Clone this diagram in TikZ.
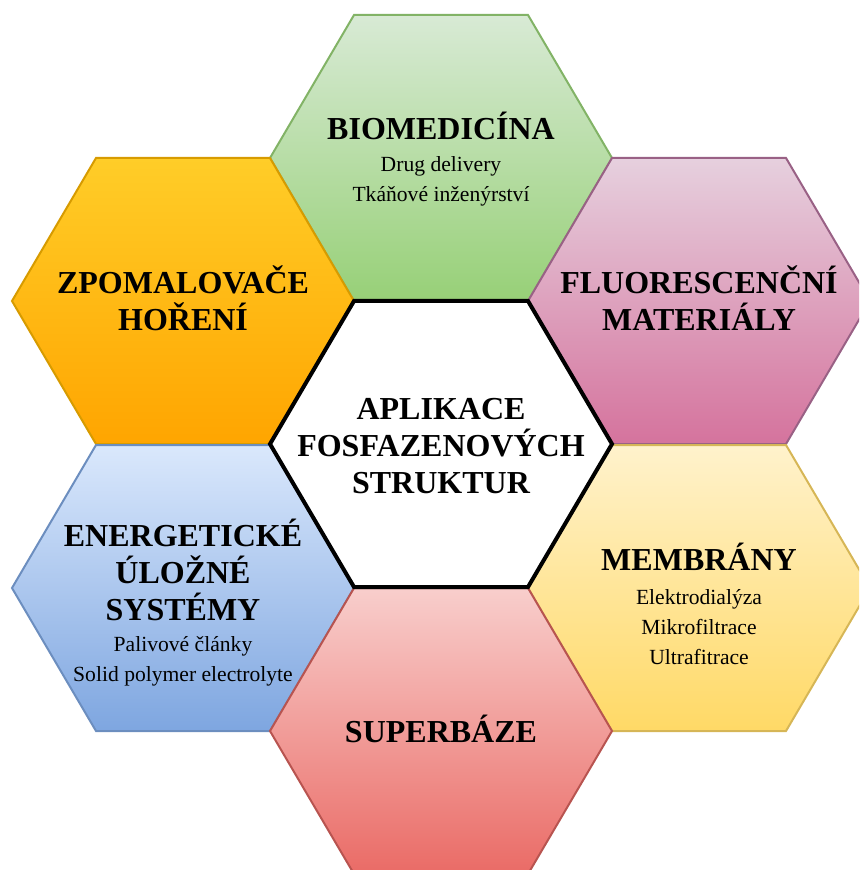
\documentclass[tikz,border=0pt]{standalone}
\usepackage{fontspec}
\setmainfont{Liberation Serif}
\usetikzlibrary{positioning}

\definecolor{biotop}{HTML}{D8EAD5}
\definecolor{biobot}{HTML}{97D077}
\definecolor{bioline}{HTML}{82B366}
\definecolor{zpotop}{HTML}{FFCD28}
\definecolor{zpobot}{HTML}{FFA500}
\definecolor{zpoline}{HTML}{D79B00}
\definecolor{flutop}{HTML}{E6D0DE}
\definecolor{flubot}{HTML}{D5739D}
\definecolor{fluline}{HTML}{996185}
\definecolor{enetop}{HTML}{DAE8FC}
\definecolor{enebot}{HTML}{7EA6E0}
\definecolor{eneline}{HTML}{6C8EBF}
\definecolor{memtop}{HTML}{FFF2CC}
\definecolor{membot}{HTML}{FFD966}
\definecolor{memline}{HTML}{D6B656}
\definecolor{suptop}{HTML}{F8CECC}
\definecolor{supbot}{HTML}{EA6B66}
\definecolor{supline}{HTML}{B85450}

\begin{document}
\begin{tikzpicture}[
    x=0.5pt, y=-0.5pt,
    hexa/.style={line width=1pt, line join=miter},
    biohex/.style={hexa, draw=bioline, top color=biotop, bottom color=biobot},
    zpohex/.style={hexa, draw=zpoline, top color=zpotop, bottom color=zpobot},
    fluhex/.style={hexa, draw=fluline, top color=flutop, bottom color=flubot},
    enehex/.style={hexa, draw=eneline, top color=enetop, bottom color=enebot},
    memhex/.style={hexa, draw=memline, top color=memtop, bottom color=membot},
    suphex/.style={hexa, draw=supline, top color=suptop, bottom color=supbot},
    mainhex/.style={line width=2pt, line join=miter, draw=black, fill=white},
    title/.style={
		align=center,
		inner sep=0pt,
		anchor=base,
		font=\fontsize{16}{18.5}\selectfont\bfseries
	},
    items/.style={
		align=center,
		inner sep=0pt,
		font=\fontsize{10.8}{15}\selectfont
	}
  ]
  \useasboundingbox (0,0) rectangle (859,870);
  \clip (0,0) rectangle (859,870);

  % the honeycomb, outer cells first, the centre cell on top
  \foreach \cx/\cy/\hx in {441/158/biohex, 183/301/zpohex, 699/301/fluhex,
                           183/588/enehex, 699/588/memhex, 441/731/suphex,
                           441/444/mainhex}
    \path[\hx] (\cx-171,\cy) -- (\cx-87,\cy-143) -- (\cx+87,\cy-143)
      -- (\cx+171,\cy) -- (\cx+87,\cy+143) -- (\cx-87,\cy+143) -- cycle;

  % texts of the cells (base = last line of a title)
  \node [title] (main) at (441,493) {APLIKACE\\FOSFAZENOVÝCH\\STRUKTUR};

  \node [title] (bio) at (441,140) {BIOMEDICÍNA};
  \node [items, below=7.5pt of bio] (biolist) {Drug delivery\\Tkáňové inženýrství};

  \node [title] (zpo) at (183,331) {ZPOMALOVAČE\\HOŘENÍ};

  \node [title] (flu) at (699,331) {FLUORESCENČNÍ\\MATERIÁLY};

  \node [title] (ene) at (183,620) {ENERGETICKÉ\\ÚLOŽNÉ\\SYSTÉMY};
  \node [items, below=7.5pt of ene] (enelist) {Palivové články\\Solid polymer electrolyte};

  \node [title] (mem) at (699,570) {MEMBRÁNY};
  \node [items, below=9.5pt of mem] (memlist) {Elektrodialýza\\Mikrofiltrace\\Ultrafitrace};

  \node [title] (sup) at (441,742) {SUPERBÁZE};
\end{tikzpicture}
\end{document}
